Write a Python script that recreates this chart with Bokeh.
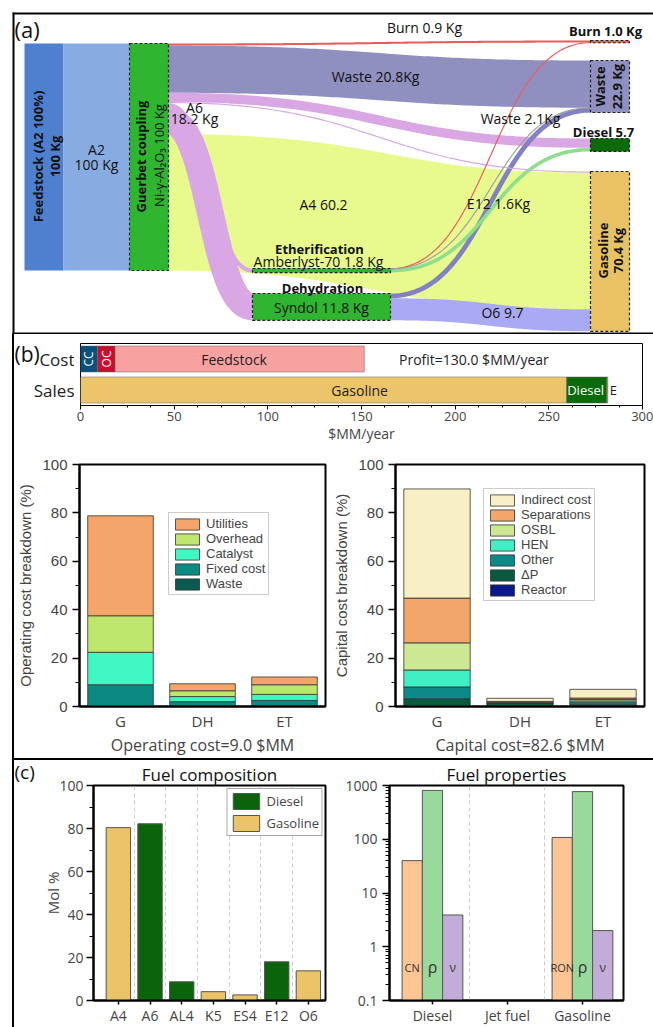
import numpy as np
from bokeh.plotting import figure
from bokeh.models import (Range1d, FactorRange, ColumnDataSource, Legend,
                          LegendItem, FixedTicker, Spacer, PrintfTickFormatter)
from bokeh.layouts import row, column
from bokeh.embed import file_html
from bokeh.resources import INLINE
from bokeh.core.properties import value

SANS = "Open Sans"
ARIAL = "Liberation Sans"

# ================= DATA =================
# (a) mass flows, kg per 100 kg feed
feed_kg = 100.0
node_names = ["Guerbet", "Etherification", "Dehydration", "Burn", "Waste", "Diesel", "Gasoline"]
node_kg = [100.0, 1.8, 11.8, 1.0, 22.9, 5.7, 70.4]
link_source = ["Guerbet"] * 7 + ["Etherification"] * 3 + ["Dehydration"] * 2
link_target = ["Burn", "Waste", "Diesel", "Gasoline", "Etherification", "Dehydration", "Gasoline",
               "Burn", "Waste", "Diesel", "Waste", "Gasoline"]
link_kg = [0.9, 20.8, 4.1, 0.5, 1.8, 11.8, 60.2, 0.1, 0.05, 1.6, 2.1, 9.7]

# (b) economics, $MM/year
bar_rows = ["Cost", "Sales"]
cost_parts = ["CC", "OC", "Feedstock"]
cost_values = [9.0, 9.5, 133.0]
sales_parts = ["Gasoline", "Diesel", "E"]
sales_values = [259.5, 21.5, 0.5]
profit = 130.0

op_units = ["G", "DH", "ET"]
op_items = ["Waste", "Fixed cost", "Catalyst", "Overhead", "Utilities"]
op_waste = [0.0, 0.3, 0.3]
op_fixed = [9.0, 1.7, 2.2]
op_catalyst = [13.4, 2.1, 2.5]
op_overhead = [15.1, 2.4, 4.0]
op_utilities = [41.3, 2.9, 3.2]
op_total = 9.0

cap_items = ["Reactor", "ΔP", "Other", "HEN", "OSBL", "Separations", "Indirect cost"]
cap_reactor = [0.0, 0.2, 0.2]
cap_dp = [3.2, 1.2, 0.5]
cap_other = [4.9, 0.2, 0.9]
cap_hen = [7.0, 0.1, 0.7]
cap_osbl = [11.2, 0.1, 0.6]
cap_sep = [18.5, 0.3, 0.6]
cap_indirect = [45.1, 1.3, 3.6]
cap_total = 82.6

# (c) fuel composition and properties
comp_names = ["A4", "A6", "AL4", "K5", "ES4", "E12", "O6"]
comp_mol = [80.4, 82.2, 8.7, 4.1, 2.6, 18.0, 13.8]
comp_fuel = ["Gasoline", "Diesel", "Diesel", "Gasoline", "Gasoline", "Diesel", "Gasoline"]

fuel_names = ["Diesel", "Jet fuel", "Gasoline"]
diesel_prop_names = ["CN", "ρ", "ν"]
diesel_props = [40.0, 810.0, 3.9]
jet_props = []
gasoline_prop_names = ["RON", "ρ", "ν"]
gasoline_props = [108.0, 770.0, 2.0]


def free_fig(w, h, x0, x1, y0, y1):
    f = figure(width=w, height=h, x_range=Range1d(x0, x1), y_range=Range1d(y1, y0),
               toolbar_location=None, output_backend="svg", min_border=0,
               x_axis_location=None, y_axis_location=None, outline_line_color=None)
    f.grid.grid_line_color = None
    return f


# ================= (a) SANKEY =================
fa = free_fig(653, 334, 0, 653, 0, 334)

k = 227.0 / feed_kg  # px per kg
node_x0 = dict(zip(node_names, [129, 252, 252, 590, 590, 590, 590]))
node_x1 = dict(zip(node_names, [168, 390, 390, 629, 629, 629, 629]))
node_y0 = dict(zip(node_names, [43, 268, 293, 40, 60, 138, 171]))
node_fill = ["#2fb52f", "#2fb52f", "#2fb52f", "#e85c5c", "#8f8fc0", "#0b6b0b", "#e9c263"]
link_colors = ["#e85c5c", "#8f8fc0", "#d9a8e4", "#d9a8e4", "#d9a8e4", "#d9a8e4", "#e8fa8e",
               "#e8605a", "#a0a0a0", "#8ede8e", "#8282c2", "#aaaaf4"]

out_off = {n: 0.0 for n in node_names}
in_off = {n: 0.0 for n in node_names}
t = np.linspace(0, 1, 90)
paths = []
for s, tg, kg, col in zip(link_source, link_target, link_kg, link_colors):
    w = kg * k
    y0 = node_y0[s] + out_off[s] + w / 2
    out_off[s] += w
    y1 = node_y0[tg] + in_off[tg] + w / 2
    in_off[tg] += w
    x0, x1 = node_x1[s], node_x0[tg]
    c = 0.5 * (x1 - x0)
    bx = (1 - t) ** 3 * x0 + 3 * (1 - t) ** 2 * t * (x0 + c) + 3 * (1 - t) * t ** 2 * (x1 - c) + t ** 3 * x1
    by = (1 - t) ** 3 * y0 + 3 * (1 - t) ** 2 * t * y0 + 3 * (1 - t) * t ** 2 * y1 + t ** 3 * y1
    paths.append((w, list(bx), list(by), col))
paths.sort(key=lambda p: -p[0])
fa.multi_line(xs=[p[1] for p in paths], ys=[p[2] for p in paths],
              line_width=[max(p[0], 1.2) for p in paths],
              line_color=[p[3] for p in paths], line_cap="butt")

fa.quad(left=[24], right=[63], top=[43], bottom=[43 + feed_kg * k], fill_color="#4f7fcf", line_color=None)
fa.quad(left=[63], right=[129], top=[43], bottom=[43 + feed_kg * k], fill_color="#88ace2", line_color=None)
fa.quad(left=[node_x0[n] for n in node_names], right=[node_x1[n] for n in node_names],
        top=[node_y0[n] for n in node_names],
        bottom=[node_y0[n] + v * k for n, v in zip(node_names, node_kg)],
        fill_color=node_fill, line_color="#222222", line_dash="3 2", line_width=1.2)
fa.multi_line(xs=[[12, 653], [13, 13], [12, 653]], ys=[[13, 13], [12, 334], [333, 333]],
              line_color="black", line_width=2)

reg_txt = [f"Burn {link_kg[0]} Kg", f"Waste {link_kg[1]}Kg", "A6", "18.2 Kg", f"Waste {link_kg[10]}Kg",
           f"A4 {link_kg[6]}", f"E12 {link_kg[9]}Kg", f"Amberlyst-70 {node_kg[1]} Kg",
           f"Syndol {node_kg[2]} Kg", f"O6 {link_kg[11]}", "A2", "100 Kg"]
reg_x = [424, 375, 194, 194, 520, 323, 498, 318, 321, 502, 96, 96]
reg_y = [27, 76, 107, 118, 118, 204, 203, 261, 307, 312, 149, 164]
fa.text(x=reg_x, y=reg_y, text=reg_txt, text_font=value(SANS), text_font_size=value("14px"),
        text_align="center", text_baseline="middle", text_color="#111111")
bold_txt = [f"Burn {node_kg[3]} Kg", f"Diesel {node_kg[5]}", "Etherification", "Dehydration"]
fa.text(x=[605, 603, 319, 322], y=[30, 131, 248, 287], text=bold_txt, text_font=value(SANS),
        text_font_size=value("13px"), text_font_style="bold", text_align="center",
        text_baseline="middle", text_color="#111111")
vb_txt = ["Feedstock (A2 100%)", "100 Kg", "Guerbet coupling", "Waste", f"{node_kg[4]} Kg",
          "Gasoline", f"{node_kg[6]} Kg"]
fa.text(x=[37, 54, 140, 599, 616, 602, 617], y=[156, 156, 156, 86, 86, 250, 250], text=vb_txt,
        angle=np.pi / 2, text_font=value(SANS), text_font_size=value("13px"), text_font_style="bold",
        text_align="center", text_baseline="middle", text_color="#111111")
fa.text(x=[158], y=[155], text=["Ni-γ-Al₂O₃ 100 Kg"], angle=np.pi / 2, text_font=value(SANS),
        text_font_size=value("13px"), text_align="center", text_baseline="middle", text_color="#111111")
fa.text(x=[14], y=[28], text=["(a)"], text_font=value(SANS), text_font_size=value("22px"),
        text_align="left", text_baseline="middle", text_color="#111111")

# ================= (b) top: cost / sales =================
B1H = 114
lb = free_fig(60, B1H, 14, 74, 334, 334 + B1H)
lb.text(x=[14], y=[353], text=["(b)"], text_font=value(SANS), text_font_size=value("21px"),
        text_align="left", text_baseline="middle", text_color="#111111")
lb.text(x=[74, 74], y=[359, 390], text=bar_rows, text_font=value(SANS), text_font_size=value("17px"),
        text_align="right", text_baseline="middle", text_color="#222222")

b1 = figure(width=579, height=B1H, x_range=Range1d(0, 300), y_range=FactorRange(*reversed(bar_rows)),
            toolbar_location=None, output_backend="svg", y_axis_location=None,
            min_border_left=6, min_border_right=11, min_border_top=9, min_border_bottom=43)
b1.grid.grid_line_color = None
b1.outline_line_color = "black"
cost_colors = ["#0b4f7c", "#c8102e", "#f7a1a1"]
sales_colors = ["#ebc46c", "#0b6b0b", "#c8a878"]
cr = np.cumsum(cost_values)
sr = np.cumsum(sales_values)
b1.hbar(y=[bar_rows[0]] * 3, left=cr - np.array(cost_values), right=cr, height=0.84,
        fill_color=cost_colors, line_color="#666666", line_width=0.5)
b1.hbar(y=[bar_rows[1]] * 3, left=sr - np.array(sales_values), right=sr, height=0.84,
        fill_color=sales_colors, line_color="#666666", line_width=0.5)
cmid = cr - np.array(cost_values) / 2
b1.text(x=list(cmid[:2]), y=[bar_rows[0]] * 2, text=cost_parts[:2], angle=np.pi / 2,
        text_font=value(SANS), text_font_size=value("12px"), text_color="white",
        text_align="center", text_baseline="middle")
b1.text(x=[82, 149], y=bar_rows, text=[cost_parts[2], sales_parts[0]], text_color="#222222",
        text_font=value(SANS), text_font_size=value("14px"), text_align="center", text_baseline="middle")
b1.text(x=[sr[0] + 0.3, sr[2] + 1.0], y=[bar_rows[1]] * 2, text=sales_parts[1:],
        text_color=["white", "#222222"], text_font=value(SANS), text_font_size=value("13px"),
        text_align="left", text_baseline="middle")
b1.text(x=[210], y=[bar_rows[0]], text=[f"Profit={profit:.1f} $MM/year"], text_font=value(SANS),
        text_font_size=value("14px"), text_align="center", text_baseline="middle", text_color="#222222")
b1.xaxis.ticker = FixedTicker(ticks=list(range(0, 301, 50)), minor_ticks=list(np.arange(0, 301, 12.5)))
b1.xaxis.axis_label = "$MM/year"
b1.xaxis.axis_label_text_font = SANS
b1.xaxis.axis_label_text_font_style = "normal"
b1.xaxis.axis_label_text_font_size = "14px"
b1.xaxis.axis_label_standoff = 0
b1.xaxis.major_label_text_font = SANS
b1.xaxis.major_label_text_font_size = "13px"
b1.xaxis.major_label_standoff = 2
b1.xaxis.major_tick_out = 4
b1.xaxis.major_tick_in = 0
b1.xaxis.minor_tick_out = 2
b1.xaxis.minor_tick_in = 0


def box_style(p, lab_font=ARIAL):
    p.grid.grid_line_color = None
    p.outline_line_color = "black"
    p.outline_line_width = 2
    for ax in p.axis:
        ax.axis_line_width = 2
        ax.axis_line_color = "black"
        ax.major_tick_line_width = 1.5
        ax.minor_tick_line_width = 1
        ax.axis_label_text_font_style = "normal"
    p.yaxis.major_tick_out = 7
    p.yaxis.major_tick_in = 0
    p.yaxis.minor_tick_out = 4
    p.yaxis.minor_tick_in = 0
    p.yaxis.major_label_text_font = lab_font
    p.yaxis.major_label_text_font_size = "15px"
    p.yaxis.axis_label_text_font = lab_font
    p.yaxis.axis_label_text_font_size = "15px"


def stacked(p, units, items, series, colors, loc):
    src = ColumnDataSource(dict(unit=units, **{n: s for n, s in zip(items, series)}))
    rs = p.vbar_stack(items, x="unit", width=0.8, color=colors, source=src,
                      line_color="#333333", line_width=0.8)
    leg = Legend(items=[LegendItem(label=n, renderers=[r]) for n, r in reversed(list(zip(items, rs)))],
                 location=loc, glyph_width=30, glyph_height=14, label_height=14, spacing=0,
                 padding=3, margin=0, label_standoff=4, label_text_font=ARIAL,
                 label_text_font_size="13px", border_line_color="#999999",
                 background_fill_alpha=1.0)
    p.add_layout(leg)
    p.xaxis.major_tick_line_color = None
    p.xaxis.major_tick_out = 0
    p.xaxis.major_tick_in = 0
    p.xaxis.minor_tick_out = 0
    p.xaxis.major_label_text_font = SANS
    p.xaxis.major_label_text_font_size = "15px"
    p.xaxis.major_label_standoff = 4
    p.xaxis.axis_label_text_font = SANS
    p.xaxis.axis_label_text_font_size = "16px"
    p.xaxis.axis_label_standoff = 0
    p.yaxis.ticker = FixedTicker(ticks=list(range(0, 101, 20)), minor_ticks=list(range(0, 101, 10)))


B2H = 426 - B1H - 2
# ================= (b) operating cost =================
b2 = figure(width=316, height=B2H, x_range=FactorRange(*op_units), y_range=Range1d(0, 100),
            toolbar_location=None, output_backend="svg",
            min_border_left=63, min_border_right=5, min_border_top=16, min_border_bottom=49)
box_style(b2)
stacked(b2, op_units, op_items, [op_waste, op_fixed, op_catalyst, op_overhead, op_utilities],
        ["#0b5a50", "#0b8a82", "#3ff7c0", "#bde66c", "#f4a66a"], (89, 111))
b2.yaxis.axis_label = "Operating cost breakdown (%)"
b2.xaxis.axis_label = f"Operating cost={op_total:.1f} $MM"

# ================= (b) capital cost =================
b3 = figure(width=323, height=B2H, x_range=FactorRange(*op_units), y_range=Range1d(0, 100),
            toolbar_location=None, output_backend="svg",
            min_border_left=61, min_border_right=9, min_border_top=16, min_border_bottom=49)
box_style(b3)
stacked(b3, op_units, cap_items, [cap_reactor, cap_dp, cap_other, cap_hen, cap_osbl, cap_sep, cap_indirect],
        ["#0b1a8a", "#0b5a40", "#0b8a88", "#40f0c4", "#cce892", "#f2a66a", "#f8f0c4"], (88, 105))
b3.yaxis.axis_label = "Capital cost breakdown (%)"
b3.xaxis.axis_label = f"Capital cost={cap_total:.1f} $MM"

# ================= (c) panel label =================
lc = free_fig(26, 26, 14, 40, 760, 786)
lc.text(x=[14], y=[771], text=["(c)"], text_font=value(SANS), text_font_size=value("19px"),
        text_align="left", text_baseline="middle", text_color="#111111")


def c_title(p, txt):
    p.title.text = txt
    p.title.align = "center"
    p.title.text_font = SANS
    p.title.text_font_size = "17px"
    p.title.text_font_style = "normal"
    p.title.text_color = "#111111"
    p.title.standoff = 0


# ================= (c) fuel composition =================
c1 = figure(width=290, height=267, x_range=Range1d(-0.785, 6.54), y_range=Range1d(0, 100),
            toolbar_location=None, output_backend="svg",
            min_border_left=47, min_border_right=5, min_border_top=23, min_border_bottom=20)
box_style(c1, SANS)
c_title(c1, "Fuel composition")
c1.yaxis.major_label_text_font_size = "14px"
c1.yaxis.major_label_standoff = 3
xi = np.arange(len(comp_names))
fuel_colors = {"Diesel": "#0b640b", "Gasoline": "#ebc46a"}
leg_items = []
for fuel in ["Diesel", "Gasoline"]:
    m = np.array([f == fuel for f in comp_fuel])
    r = c1.vbar(x=xi[m], top=np.array(comp_mol)[m], width=0.77, fill_color=fuel_colors[fuel],
                line_color="#555555", line_width=1)
    leg_items.append(LegendItem(label=fuel, renderers=[r]))
c1.add_layout(Legend(items=leg_items, location="top_right", glyph_width=33, glyph_height=20,
                     label_height=20, spacing=2, padding=2, margin=3, label_standoff=4,
                     label_text_font=SANS, label_text_font_size="13px", border_line_color="#555555"))
c1.xgrid.grid_line_color = "#cccccc"
c1.xgrid.grid_line_dash = "4 3"
c1.xgrid.ticker = FixedTicker(ticks=list(xi[:-1] + 0.5))
c1.xaxis.ticker = FixedTicker(ticks=list(xi))
c1.xaxis.major_label_overrides = {int(i): n for i, n in zip(xi, comp_names)}
c1.xaxis.major_label_text_font = SANS
c1.xaxis.major_label_text_font_size = "14px"
c1.xaxis.major_tick_out = 4
c1.xaxis.major_tick_in = 0
c1.xaxis.major_label_standoff = 1
c1.yaxis.ticker = FixedTicker(ticks=list(range(0, 101, 20)), minor_ticks=list(range(0, 101, 10)))
c1.yaxis.axis_label = "Mol %"
c1.yaxis.axis_label_text_font = SANS
c1.yaxis.axis_label_standoff = -7

# ================= (c) fuel properties =================
c2 = figure(width=323, height=267, x_range=Range1d(-0.573, 2.547), y_range=Range1d(0.1, 1000),
            y_axis_type="log", toolbar_location=None, output_backend="svg",
            min_border_left=59, min_border_right=30, min_border_top=23, min_border_bottom=20)
box_style(c2, SANS)
c_title(c2, "Fuel properties")
c2.yaxis.major_label_text_font_size = "14px"
prop_colors = ["#fdc593", "#99d99b", "#c2acd8"]
prop_label_size = {"CN": "11px", "RON": "11px", "ρ": "16px", "ν": "12px"}
offsets = [-0.27, 0.0, 0.27]
for gi, (vals, names) in enumerate([(diesel_props, diesel_prop_names), (jet_props, []),
                                    (gasoline_props, gasoline_prop_names)]):
    if not vals:
        continue
    xs = [gi + o for o in offsets]
    c2.vbar(x=xs, bottom=0.001, top=vals, width=0.27, fill_color=prop_colors,
            line_color="#555555", line_width=1)
    c2.text(x=xs, y=[0.42] * 3, text=names, text_font=value(SANS),
            text_font_size=[prop_label_size[n] for n in names],
            text_align="center", text_baseline="middle", text_color="#333333")
c2.xgrid.grid_line_color = "#cccccc"
c2.xgrid.grid_line_dash = "4 3"
c2.xgrid.ticker = FixedTicker(ticks=[0.5, 1.5])
c2.xaxis.ticker = FixedTicker(ticks=[0, 1, 2])
c2.xaxis.major_label_overrides = {i: n for i, n in enumerate(fuel_names)}
c2.xaxis.major_label_text_font = SANS
c2.xaxis.major_label_text_font_size = "14px"
c2.xaxis.major_tick_out = 4
c2.xaxis.major_tick_in = 0
c2.xaxis.major_label_standoff = 1
minor = [m * 10.0 ** e for e in range(-1, 3) for m in range(2, 10)]
c2.yaxis.ticker = FixedTicker(ticks=[0.1, 1, 10, 100, 1000], minor_ticks=minor)
c2.yaxis.formatter = PrintfTickFormatter(format="%g")

# ================= LAYOUT =================
blockB = row(Spacer(width=12, height=426),
             Spacer(width=2, height=426, styles={"background-color": "black"}),
             column(row(column(lb), b1), row(b2, b3),
                    Spacer(width=639, height=2, styles={"background-color": "black"})))
blockC = row(Spacer(width=12, height=267),
             Spacer(width=2, height=267, styles={"background-color": "black"}),
             column(lc, Spacer(width=26, height=241)), c1, c2)
page = column(fa, blockB, blockC)

open("out.html", "w").write(file_html(page, INLINE))
